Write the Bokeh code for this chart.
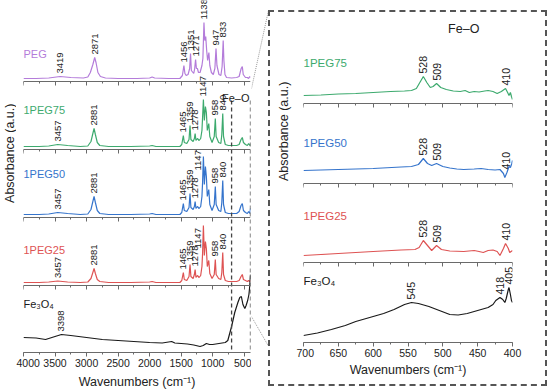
import numpy as np
from bokeh.plotting import figure
from bokeh.models import (Range1d, SingleIntervalTicker, LabelSet, Label, ColumnDataSource, Spacer,
                          LinearAxis)
from bokeh.layouts import row, column
from bokeh.core.properties import value
from bokeh.embed import file_html
from bokeh.resources import INLINE

FONT = "Liberation Sans"

# ---------------- data (wavenumber cm-1, absorbance a.u.) ----------------
samples = ["PEG", "1PEG75", "1PEG50", "1PEG25", "Fe₃O₄"]
colors = ["#B47CDA", "#3DAA6E", "#3574CC", "#DE5353", "#1A1A1A"]

peg_full = [(4000, 3), (3800, 3), (3600, 3.5), (3419, 5), (3250, 4), (3050, 3.5), (2980, 4.5), (2940, 9),
            (2900, 17), (2871, 24), (2850, 19), (2820, 9), (2780, 5), (2700, 3.5), (2500, 3), (2200, 3),
            (2000, 3.5), (1960, 4.5), (1920, 3.5), (1700, 3), (1520, 3), (1480, 6), (1456, 16), (1440, 8),
            (1420, 6), (1390, 7), (1365, 13), (1351, 28), (1338, 11), (1300, 8), (1285, 13), (1271, 22),
            (1258, 13), (1242, 13), (1225, 9), (1200, 9), (1170, 16), (1155, 23), (1138, 59), (1125, 41),
            (1110, 45), (1095, 31), (1080, 21), (1060, 29), (1045, 16), (1020, 9), (990, 7), (965, 13),
            (947, 33), (932, 16), (900, 7), (870, 6), (850, 15), (840, 30), (833, 41), (822, 21), (805, 7),
            (780, 4), (700, 3.5), (620, 4), (580, 5), (548, 13), (530, 15), (515, 7), (480, 4), (450, 4),
            (430, 3), (412, 5), (400, 4)]

peg75_full = [(4000, 3), (3750, 3), (3600, 3.5), (3457, 5), (3300, 4), (3100, 3), (2980, 3.5), (2930, 8),
              (2900, 16), (2881, 21), (2860, 15), (2830, 7), (2790, 4), (2650, 3), (2300, 3), (2000, 3.5),
              (1960, 4), (1900, 3), (1700, 3), (1520, 3), (1490, 5), (1465, 14), (1450, 7), (1410, 6),
              (1375, 10), (1359, 24), (1345, 10), (1310, 8), (1290, 11), (1278, 16), (1265, 9), (1242, 11),
              (1215, 9), (1190, 11), (1170, 19), (1160, 32), (1147, 50), (1132, 29), (1115, 43), (1100, 37),
              (1085, 19), (1062, 26), (1045, 13), (1010, 7), (975, 13), (958, 31), (945, 13), (905, 7),
              (870, 6), (855, 15), (840, 36), (828, 13), (800, 5), (750, 4), (700, 4), (620, 4), (580, 5),
              (550, 10), (530, 12), (512, 7), (480, 5), (450, 4), (430, 6), (410, 4), (400, 5)]

peg50_full = [(4000, 3), (3750, 3), (3600, 3.5), (3457, 5), (3300, 4), (3100, 3), (2980, 3.5), (2930, 8),
              (2900, 16), (2881, 21), (2860, 15), (2830, 7), (2790, 4), (2650, 3), (2300, 3), (2000, 3.5),
              (1960, 4), (1900, 3), (1700, 3), (1520, 3), (1490, 5), (1465, 14), (1450, 7), (1410, 6),
              (1375, 10), (1359, 24), (1345, 10), (1310, 8), (1290, 11), (1278, 16), (1265, 9), (1242, 11),
              (1215, 9), (1190, 11), (1170, 21), (1160, 35), (1147, 61), (1132, 33), (1115, 51), (1100, 41),
              (1085, 21), (1062, 28), (1045, 13), (1010, 7), (975, 13), (958, 31), (945, 13), (905, 7),
              (870, 6), (855, 15), (840, 37), (828, 13), (800, 5), (750, 4), (700, 4), (620, 4), (580, 6),
              (550, 12), (530, 14), (512, 7), (480, 5), (450, 4), (430, 6), (410, 4), (400, 9)]

peg25_full = [(4000, 3), (3750, 3), (3600, 3.5), (3457, 4.5), (3300, 3.5), (3100, 3), (2980, 3.5), (2930, 7),
              (2900, 13), (2881, 17), (2860, 12), (2830, 6), (2790, 4), (2650, 3), (2300, 3), (2000, 3.5),
              (1960, 4), (1900, 3), (1700, 3), (1520, 3), (1490, 5), (1465, 13), (1450, 6), (1410, 5),
              (1375, 9), (1359, 21), (1345, 9), (1310, 7), (1290, 11), (1278, 16), (1265, 8), (1242, 10),
              (1215, 8), (1190, 10), (1170, 19), (1160, 32), (1147, 60), (1132, 30), (1115, 44), (1100, 37),
              (1085, 19), (1062, 25), (1045, 12), (1010, 7), (975, 11), (958, 26), (945, 11), (905, 7),
              (870, 6), (855, 13), (840, 33), (828, 11), (800, 5), (750, 4), (700, 4), (620, 4), (580, 5),
              (550, 9), (530, 11), (512, 6), (480, 5), (450, 4), (430, 5), (410, 4), (400, 5)]

fe_full = [(4000, 15), (3800, 14.5), (3650, 13), (3500, 16), (3398, 18), (3250, 17), (3000, 15), (2750, 13),
           (2500, 12), (2250, 11), (2000, 10), (1800, 9.5), (1650, 11), (1600, 9.5), (1500, 9), (1400, 8.5),
           (1300, 7.5), (1200, 6), (1150, 7), (1100, 9), (1050, 8), (1000, 8), (900, 9), (800, 10),
           (760, 12), (700, 26), (650, 40), (600, 50), (570, 55), (545, 56), (520, 48), (490, 44),
           (470, 47), (445, 52), (425, 58), (412, 66), (400, 78)]

peg75_zoom = [(700, 8), (675, 8.5), (650, 9.5), (625, 10), (600, 11), (575, 12), (555, 12.5), (545, 13),
              (538, 15), (533, 21), (528, 27), (523, 21), (518, 16), (514, 17), (509, 20), (503, 16),
              (495, 14), (485, 12.5), (475, 12), (468, 13), (462, 11), (455, 12), (448, 11.5), (440, 12.5),
              (435, 13), (428, 12), (422, 10), (416, 12), (412, 14), (410, 15), (407, 11), (405, 8),
              (403, 11), (401.5, 7), (400, 4)]

peg50_zoom = [(700, 13), (650, 14), (600, 15), (560, 16.5), (545, 17), (535, 19), (528, 25), (522, 20),
              (516, 18), (509, 20), (500, 17), (490, 15.5), (480, 14.5), (470, 14), (455, 14.5), (445, 15),
              (435, 14), (425, 13.5), (418, 14), (413, 10), (411, 6), (408, 11), (405, 17), (403, 16),
              (401, 20), (400, 23)]

peg25_zoom = [(700, 7), (650, 9), (600, 11), (560, 12.5), (540, 13), (534, 15), (528, 22), (522, 17),
              (516, 12), (509, 17), (502, 13), (490, 11.5), (470, 11), (455, 12), (448, 11), (442, 10),
              (435, 12), (428, 12.5), (422, 11), (418, 7), (413, 14), (410, 19), (406, 14), (404, 10),
              (402, 11), (400, 12)]

fe_zoom = [(700, 7), (680, 9.5), (660, 13), (640, 17), (625, 21), (610, 24), (600, 26), (585, 29),
           (570, 33), (555, 38), (545, 40), (535, 39), (520, 36), (505, 32), (490, 28), (478, 27.5),
           (465, 29), (455, 31), (445, 33), (435, 35), (428, 38), (424, 42), (418, 45), (414, 43),
           (411, 40), (409, 44), (406, 53), (405, 55), (403, 48), (401.5, 42), (400, 40)]

peg_peaks = [3419, 2871, 1456, 1351, 1271, 1138, 947, 833]
pegc_peaks = [3457, 2881, 1465, 1359, 1278, 1147, 958, 840]
fe_peaks = [3398]
pegc_peaks_zoom = [528, 509, 410]
fe_peaks_zoom = [545, 418, 405]

full_range = (4000, 400)
feo_window = [700, 400]
full_ticks = 500
zoom_ticks = 50

# ---------------- layout constants (pixels / offsets) ----------------
AXIS_C = "#6a6a6a"
TXT_C = "#222222"
full_offsets = [271, 203, 135, 67, 0]      # baseline axis of each stacked spectrum
full_name_h = [28, 40, 44, 36, 49]
zoom_offsets = [239, 159, 80, 0]
zoom_name_h = [41, 41, 47, 62]


def label_rows(spec, peaks, win, gap, off, overrides=None):
    w = np.array([p[0] for p in spec], dtype=float)
    a = np.array([p[1] for p in spec], dtype=float)
    xs, ys, ts, xo = [], [], [], []
    for pk in peaks:
        m = np.abs(w - pk) <= win
        y = a[m].max() + gap if m.any() else float(np.interp(pk, w[::-1], a[::-1])) + gap
        dx = 0
        if overrides and pk in overrides:
            y, dx = overrides[pk]
        xs.append(pk); ys.append(y + off); ts.append(str(pk)); xo.append(dx)
    return dict(x=xs, y=ys, text=ts, xo=xo)


def style_axis(ax, interval, labels, tick_font="10.5px", title=None, standoff=2, title_standoff=4):
    ax.ticker = SingleIntervalTicker(interval=interval, num_minor_ticks=2)
    ax.axis_line_color = AXIS_C
    ax.major_tick_line_color = AXIS_C
    ax.minor_tick_line_color = AXIS_C
    ax.major_tick_in = 0
    ax.major_tick_out = 4
    ax.minor_tick_in = 0
    ax.minor_tick_out = 2
    if labels:
        ax.major_label_text_font = FONT
        ax.major_label_text_font_size = tick_font
        ax.major_label_text_color = TXT_C
        ax.major_label_standoff = standoff
        ax.axis_label = title
        ax.axis_label_text_font = FONT
        ax.axis_label_text_font_size = "12.5px"
        ax.axis_label_text_font_style = "normal"
        ax.axis_label_text_color = TXT_C
        ax.axis_label_standoff = title_standoff
    else:
        ax.major_label_text_color = None


def add_peak_labels(p, rows, size):
    src = ColumnDataSource(rows)
    p.add_layout(LabelSet(x="x", y="y", text="text", source=src, angle=np.pi / 2, x_offset="xo",
                          text_align="left", text_baseline="middle", text_font=value(FONT),
                          text_font_size=value(size), text_color=TXT_C))


def add_name(p, x, y, text, color, size):
    p.add_layout(Label(x=x, y=y, text=text, text_color=color, text_font=FONT, text_font_size=size,
                       text_align="left", text_baseline="middle", x_offset=0))


def strip(width, height, text, xf, yf):
    s = figure(width=width, height=height, x_range=Range1d(0, 1), y_range=Range1d(0, 1),
               toolbar_location=None, output_backend="svg", x_axis_location=None, y_axis_location=None,
               min_border=0, outline_line_color=None)
    s.grid.visible = False
    s.text(x=[xf], y=[yf], text=[text], angle=np.pi / 2, text_align="center", text_baseline="middle",
           text_font=value(FONT), text_font_size=value("12.5px"), text_color=TXT_C)
    return s


# ---------------- left: stacked full spectra ----------------
left = figure(width=235, height=392, x_range=Range1d(*full_range), y_range=Range1d(0, 352),
              toolbar_location=None, output_backend="svg", y_axis_location=None,
              min_border_left=7, min_border_right=1, min_border_top=0, min_border_bottom=40,
              outline_line_color=None)
left.grid.visible = False
style_axis(left.xaxis[0], full_ticks, True, "10.5px", "Wavenumbers (cm⁻¹)", 2, 5)
for off in full_offsets[:-1]:
    ax = LinearAxis(fixed_location=off)
    style_axis(ax, full_ticks, False)
    left.add_layout(ax, "below")

full_specs = [peg_full, peg75_full, peg50_full, peg25_full, fe_full]
full_peaks = [peg_peaks, pegc_peaks, pegc_peaks, pegc_peaks, fe_peaks]
overrides = [None, None, {1147: (47, -5)}, {1147: (37, -5)}, None]
for i, spec in enumerate(full_specs):
    off = full_offsets[i]
    left.line([q[0] for q in spec], [q[1] + off for q in spec], line_color=colors[i], line_width=1.2)
    add_peak_labels(left, label_rows(spec, full_peaks[i], 12, 3, off, overrides[i]), "9.5px")
    add_name(left, full_range[0], off + full_name_h[i], samples[i], colors[i], "11px")

left.segment(x0=feo_window, y0=[252, 252], x1=feo_window, y1=[0, 0], line_color="#444444",
             line_dash="4 3", line_width=1.3)
left.add_layout(Label(x=feo_window[1], y=full_offsets[1] + 52, text="Fe–O", text_font=FONT,
                      text_font_size="11px", text_color=TXT_C, text_align="right", text_baseline="middle",
                      x_offset=-1))

left_strip = strip(16, 392, "Absorbance (a.u.)", 0.6, 0.566)

# ---------------- connector ----------------
conn = figure(width=17, height=392, x_range=Range1d(0, 1), y_range=Range1d(392, 0),
              toolbar_location=None, output_backend="svg", x_axis_location=None, y_axis_location=None,
              min_border=0, outline_line_color=None)
conn.grid.visible = False
conn.segment(x0=[0, 0], y0=[98, 352], x1=[1, 1], y1=[11, 385], line_color="#9a9a9a",
             line_dash="1 1", line_width=1)

# ---------------- right: Fe-O zoom ----------------
right = figure(width=249, height=372, x_range=Range1d(feo_window[0], feo_window[1]),
               y_range=Range1d(0, 330), toolbar_location=None, output_backend="svg", y_axis_location=None,
               min_border_left=7, min_border_right=33, min_border_top=0, min_border_bottom=42,
               outline_line_color=None)
right.grid.visible = False
style_axis(right.xaxis[0], zoom_ticks, True, "10.5px", "Wavenumbers (cm⁻¹)", 2, 3)
for off in zoom_offsets[:-1]:
    ax = LinearAxis(fixed_location=off)
    style_axis(ax, zoom_ticks, False)
    right.add_layout(ax, "below")

zoom_specs = [peg75_zoom, peg50_zoom, peg25_zoom, fe_zoom]
zoom_peaks = [pegc_peaks_zoom, pegc_peaks_zoom, pegc_peaks_zoom, fe_peaks_zoom]
for i, spec in enumerate(zoom_specs):
    off = zoom_offsets[i]
    right.line([q[0] for q in spec], [q[1] + off for q in spec], line_color=colors[i + 1], line_width=1.2)
    add_peak_labels(right, label_rows(spec, zoom_peaks[i], 4, 3, off), "10.5px")
    add_name(right, feo_window[0], off + zoom_name_h[i], samples[i + 1], colors[i + 1], "11.5px")

right.add_layout(Label(x=470, y=zoom_offsets[0] + 75, text="Fe–O", text_font=FONT, text_font_size="12.5px",
                       text_color=TXT_C, text_align="center", text_baseline="middle"))

right_strip = strip(26, 372, "Absorbance (a.u.)", 0.5, 0.64)
box = row(right_strip, right, spacing=0, styles={"border": "2px dashed #555555"})
right_wrap = column(Spacer(width=279, height=10), box, spacing=0)

root = row(left_strip, left, conn, right_wrap, spacing=0)

open("out.html", "w").write(file_html(root, INLINE))
